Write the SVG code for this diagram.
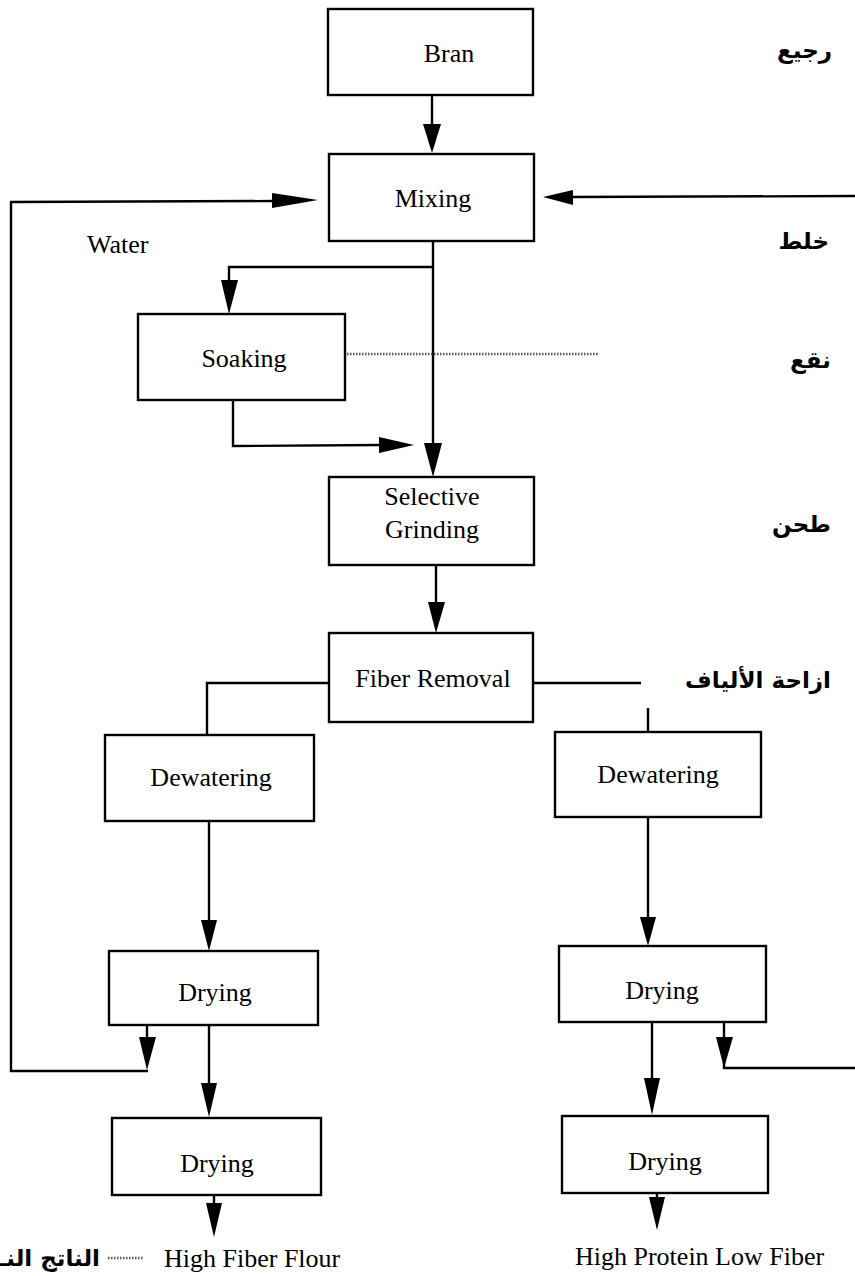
<svg xmlns="http://www.w3.org/2000/svg" width="855" height="1276" viewBox="0 0 855 1276">
  <style>
    .box { fill: #ffffff; stroke: #000000; stroke-width: 2.4; }
    .lbl { font-family: "Liberation Serif", "Times New Roman", serif; font-size: 26px; fill: #000000; text-anchor: middle; }
    .note { font-family: "Liberation Serif", "Times New Roman", serif; font-size: 26px; fill: #000000; }
    .ar { font-family: "DejaVu Sans", "Noto Sans", sans-serif; font-size: 23px; font-weight: bold; fill: #000000; text-anchor: end; }
    .wire { fill: none; stroke: #000000; stroke-width: 2.4; }
    .dots { fill: none; stroke: #555555; stroke-width: 2.5; stroke-dasharray: 1.5 1.5; }
    .head { fill: #000000; stroke: none; }
  </style>

  <rect width="855" height="1276" fill="#ffffff"/>

  <!-- connectors -->
  <g id="connectors">
    <!-- Bran to Mixing -->
    <line class="wire" x1="432" y1="95" x2="432" y2="126"/>
    <polygon class="head" points="423,124 441,124 432,153"/>

    <!-- water recycle loop on the left back into Mixing -->
    <polyline class="wire" points="148,1071 11,1071 11,202 274,201"/>
    <polygon class="head" points="272,193 272,208 318,200"/>
    <line class="wire" x1="147" y1="1025" x2="147" y2="1040"/>
    <polygon class="head" points="139,1037 156,1037 147,1070"/>

    <!-- recycle on the right back into Mixing -->
    <line class="wire" x1="855" y1="196" x2="570" y2="197"/>
    <polygon class="head" points="573,190 573,205 543,197"/>
    <polyline class="wire" points="724,1040 724,1068 855,1068"/>
    <line class="wire" x1="724" y1="1022" x2="724" y2="1040"/>
    <polygon class="head" points="716,1037 733,1037 724,1068"/>

    <!-- Mixing down to Selective Grinding -->
    <line class="wire" x1="433" y1="241" x2="433" y2="446"/>
    <polygon class="head" points="424,443 442,443 433,477"/>

    <!-- branch to Soaking -->
    <polyline class="wire" points="433,267 229,267 229,283"/>
    <polygon class="head" points="221,280 238,280 229,314"/>

    <!-- Soaking level line -->
    <line class="dots" x1="347" y1="354" x2="598" y2="354"/>

    <!-- Soaking out -->
    <polyline class="wire" points="233,400 233,446 381,445"/>
    <polygon class="head" points="379,437 379,453 414,445"/>

    <!-- Grinding to Fiber Removal -->
    <line class="wire" x1="436" y1="565" x2="436" y2="604"/>
    <polygon class="head" points="428,602 445,602 436,633"/>

    <!-- Fiber Removal splits -->
    <polyline class="wire" points="329,683 207,683 207,735"/>
    <line class="wire" x1="533" y1="683" x2="641" y2="683"/>
    <line class="wire" x1="648" y1="708" x2="648" y2="732"/>

    <!-- Dewatering to Drying -->
    <line class="wire" x1="209" y1="821" x2="209" y2="922"/>
    <polygon class="head" points="201,920 217,920 209,951"/>
    <line class="wire" x1="648" y1="817" x2="648" y2="919"/>
    <polygon class="head" points="640,917 656,917 648,946"/>

    <!-- Drying to Drying -->
    <line class="wire" x1="209" y1="1025" x2="209" y2="1085"/>
    <polygon class="head" points="201,1083 217,1083 209,1117"/>
    <line class="wire" x1="652" y1="1022" x2="652" y2="1080"/>
    <polygon class="head" points="644,1078 660,1078 652,1115"/>

    <!-- product outlets -->
    <line class="wire" x1="214" y1="1195" x2="214" y2="1205"/>
    <polygon class="head" points="206,1203 222,1203 214,1237"/>
    <line class="wire" x1="657" y1="1193" x2="657" y2="1199"/>
    <polygon class="head" points="649,1197 665,1197 657,1230"/>

    <!-- leader next to the product label -->
    <line class="dots" x1="108" y1="1258" x2="143" y2="1258" stroke-width="1.5"/>
  </g>

  <!-- process nodes -->
  <g id="bran">
    <rect class="box" x="328" y="9" width="205" height="86"/>
    <text class="lbl" x="449" y="62">Bran</text>
  </g>
  <g id="mixing">
    <rect class="box" x="329" y="154" width="205" height="87"/>
    <text class="lbl" x="433" y="207">Mixing</text>
  </g>
  <g id="soaking">
    <rect class="box" x="138" y="314" width="207" height="86"/>
    <text class="lbl" x="244" y="367">Soaking</text>
  </g>
  <g id="grinding">
    <rect class="box" x="329" y="477" width="205" height="88"/>
    <text class="lbl" x="432" y="505">Selective</text>
    <text class="lbl" x="432" y="538">Grinding</text>
  </g>
  <g id="fiber-removal">
    <rect class="box" x="329" y="633" width="204" height="89"/>
    <text class="lbl" x="433" y="687">Fiber Removal</text>
  </g>
  <g id="dewatering-left">
    <rect class="box" x="105" y="735" width="209" height="86"/>
    <text class="lbl" x="211" y="786">Dewatering</text>
  </g>
  <g id="dewatering-right">
    <rect class="box" x="555" y="732" width="206" height="85"/>
    <text class="lbl" x="658" y="783">Dewatering</text>
  </g>
  <g id="drying-left-1">
    <rect class="box" x="109" y="951" width="209" height="74"/>
    <text class="lbl" x="215" y="1001">Drying</text>
  </g>
  <g id="drying-right-1">
    <rect class="box" x="559" y="946" width="207" height="76"/>
    <text class="lbl" x="662" y="999">Drying</text>
  </g>
  <g id="drying-left-2">
    <rect class="box" x="112" y="1118" width="209" height="77"/>
    <text class="lbl" x="217" y="1172">Drying</text>
  </g>
  <g id="drying-right-2">
    <rect class="box" x="562" y="1116" width="206" height="77"/>
    <text class="lbl" x="665" y="1170">Drying</text>
  </g>

  <!-- free labels -->
  <g id="water-label">
    <text class="note" x="87" y="253">Water</text>
  </g>
  <g id="product-left">
    <text class="note" x="164" y="1267">High Fiber Flour</text>
    <text class="ar" x="100" y="1266">الناتج النـ</text>
  </g>
  <g id="product-right">
    <text class="note" x="575" y="1265">High Protein Low Fiber</text>
  </g>

  <!-- Arabic step names -->
  <g id="arabic-steps">
    <text class="ar" x="832" y="58">رجيع</text>
    <text class="ar" x="829" y="249">خلط</text>
    <text class="ar" x="831" y="368">نقع</text>
    <text class="ar" x="831" y="532">طحن</text>
    <text class="ar" x="831" y="688">ازاحة الألياف</text>
  </g>
</svg>
